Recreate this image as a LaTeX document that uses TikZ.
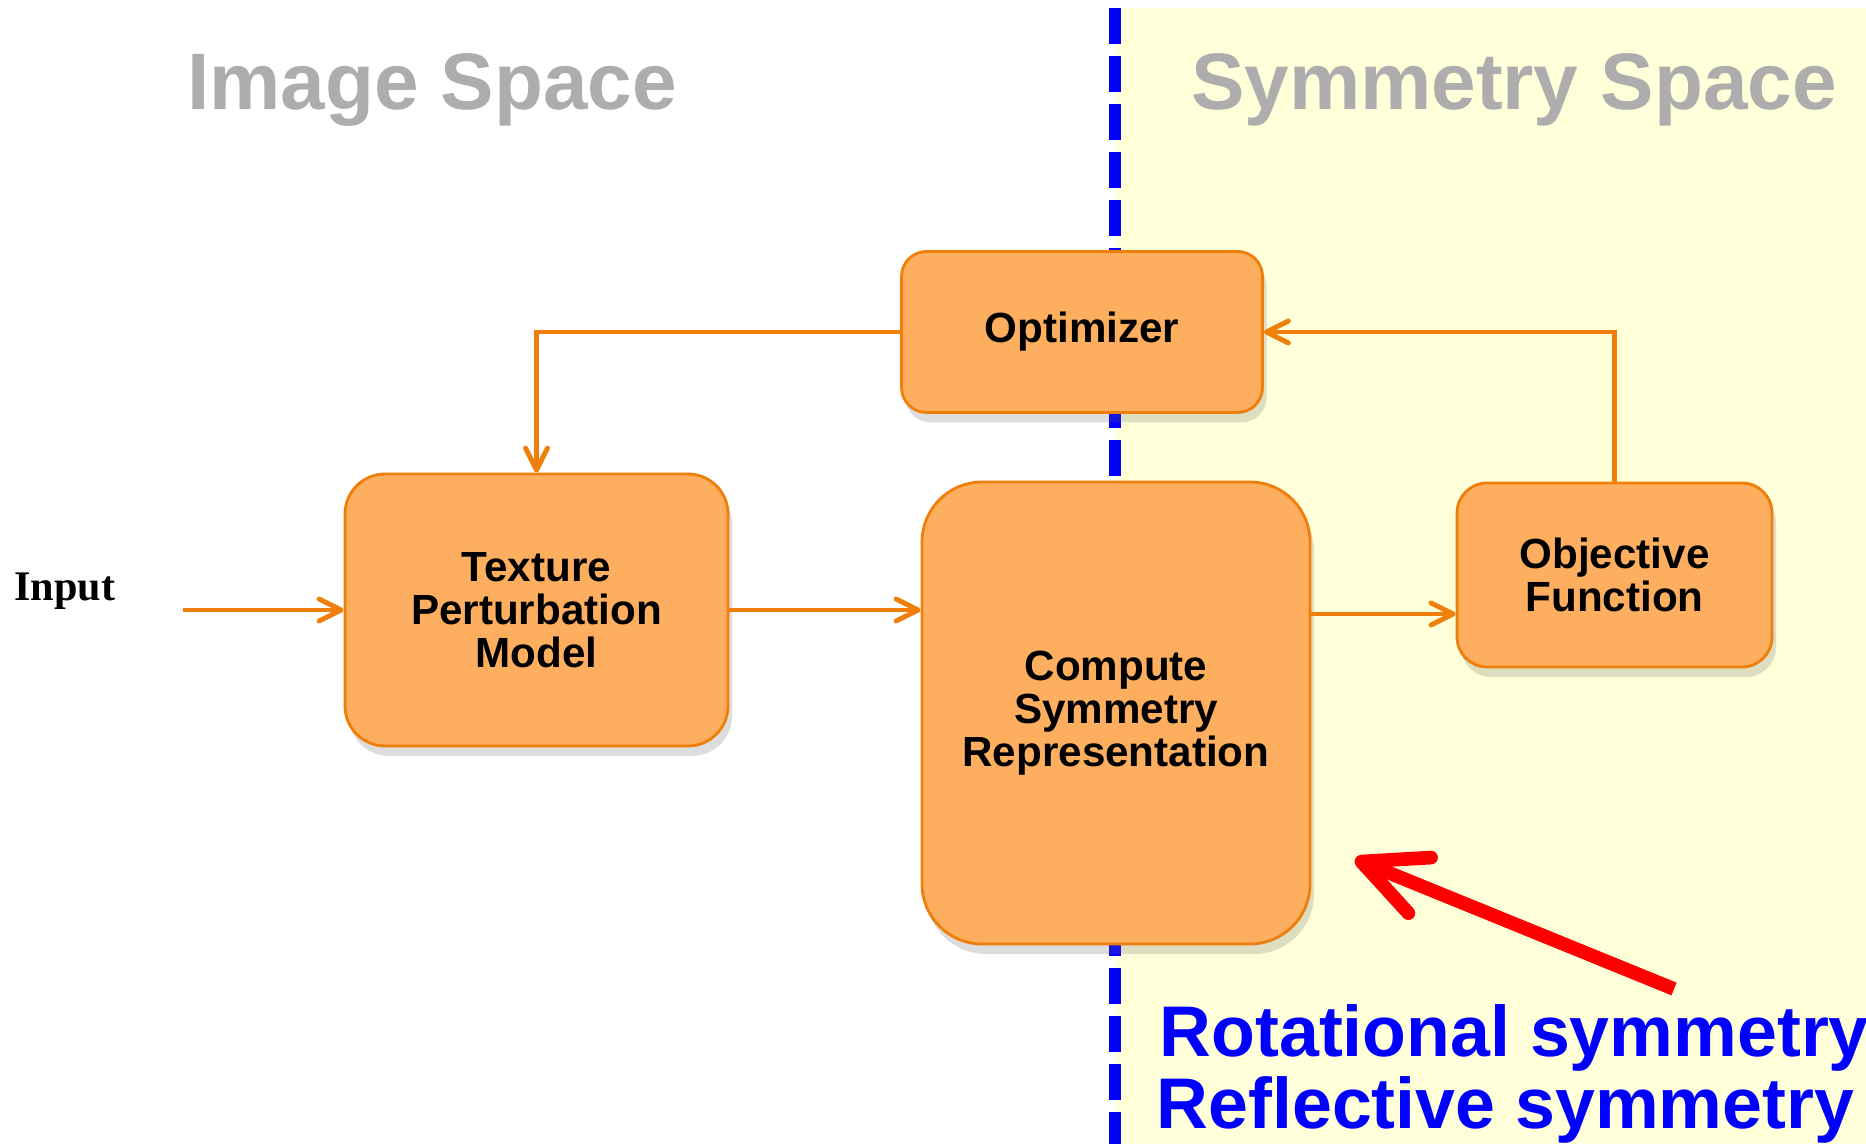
\documentclass[tikz,border=0pt]{standalone}
\usepackage{fontspec}
\setmainfont{Liberation Sans}
\newfontfamily\serifbold{Liberation Serif}
\usetikzlibrary{arrows.meta, positioning, calc, shadows}
\definecolor{boxorange}{HTML}{FDAE5F}
\definecolor{edgeorange}{HTML}{F07E0B}
\definecolor{paleyellow}{HTML}{FFFFDA}
\definecolor{titlegray}{HTML}{ADADAD}
\definecolor{pureblue}{HTML}{0000FF}
\definecolor{pointred}{HTML}{FF0000}
\tikzset{
  box/.style={rectangle,rounded corners=#1,draw=edgeorange,fill=boxorange,line width=0.8pt,
    align=center,inner sep=0pt,font=\fontsize{12}{12.3}\selectfont\bfseries,
    drop shadow={shadow xshift=0.4mm,shadow yshift=-1mm,opacity=0.22,fill=black!60}},
  box/.default=3mm,
  arrow/.style={-{Straight Barb[length=2.2mm,width=2.2mm,round]},line width=1.4pt,edgeorange,#1},
  title/.style={font=\fontsize{22.8}{25}\selectfont\bfseries,text=titlegray,inner sep=0pt},
  kind/.style={font=\fontsize{20.4}{22}\selectfont\bfseries,text=pureblue,inner sep=0pt},
}
\begin{document}
\begin{tikzpicture}
  \useasboundingbox (0,0) rectangle (18.66,11.44);
  % symmetry space background and divider
  \fill[paleyellow] (11.15,0) rectangle (18.66,11.36);
  \draw[pureblue,line width=1.2mm,dash pattern=on 3.6mm off 1.2mm] (11.15,11.36) -- (11.15,0);

  \node[title,anchor=base] (imgsp) at (4.32,10.34) {Image Space};
  \node[title,anchor=base] (symsp) at (15.14,10.34) {Symmetry Space};

  \node[box=2.5mm,minimum width=3.61cm,minimum height=1.61cm] (opt) at (10.82,8.12) {Optimizer};
  \node[box=4mm,minimum width=3.83cm,minimum height=2.72cm] (tex) at (5.365,5.34)
    {Texture\\Perturbation\\Model};
  \node[box=6mm,minimum width=3.88cm,minimum height=4.62cm] (comp) at (11.16,4.31)
    {Compute\\Symmetry\\Representation};
  \node[box=3mm,minimum width=3.15cm,minimum height=1.84cm] (obj) at (16.145,5.69)
    {Objective\\Function};

  \node[font=\serifbold\fontsize{12}{14}\selectfont\bfseries,inner sep=0pt] (in) at (0.65,5.53) {Input};
  \coordinate (instart) at (1.83,5.34);

  \draw[arrow] (instart) -- (tex.west);
  \draw[arrow] (tex.east) -- (comp.west |- tex.east);
  \draw[arrow] ([yshift=-0.4mm]comp.east |- tex.east) -- ([yshift=-0.4mm]obj.west |- tex.east);
  \draw[arrow] (obj.north) |- (opt.east);
  \draw[arrow] (opt.west) -| (tex.north);

  % symmetry kinds
  \node[kind,anchor=base west] (rot) at (11.59,0.87) {Rotational symmetry};
  \node[kind,anchor=base west] (refl) at (11.56,0.15) {Reflective symmetry};
  \coordinate (redtail) at (16.74,1.55);
  \coordinate (redtip) at (13.55,2.85);
  \draw[line width=3.9pt,pointred,-{Straight Barb[length=6.3mm,width=6mm,round]}] (redtail) -- (redtip);
\end{tikzpicture}
\end{document}
